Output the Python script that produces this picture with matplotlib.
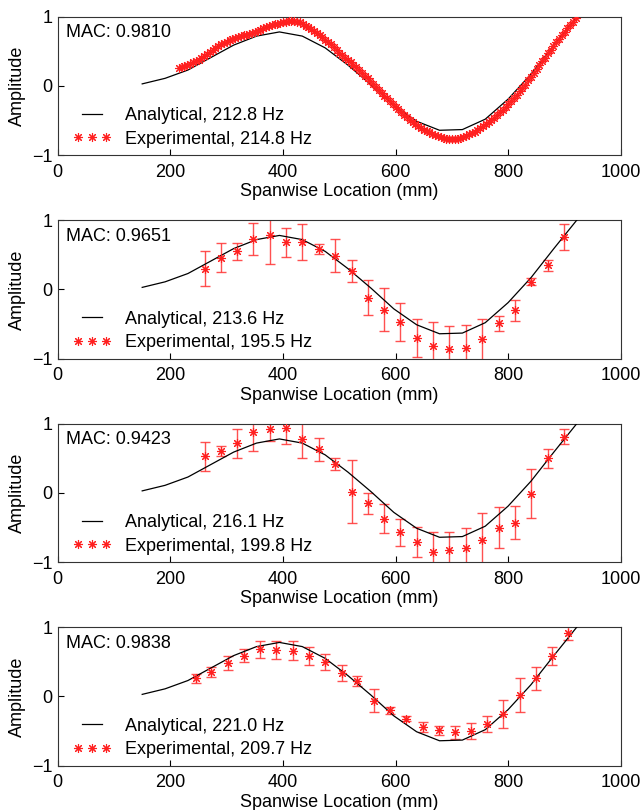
import matplotlib
matplotlib.use('Agg')
from matplotlib import pyplot as plt
from matplotlib.legend_handler import HandlerLine2D
import numpy as np

plt.rcParams['font.family'] = ['Liberation Sans', 'DejaVu Sans']
plt.rcParams['font.size'] = 13

# analytical mode shape (same in every panel)
ana_x = [150, 190.6, 231.2, 271.8, 312.4, 353, 393.6, 434.2, 474.8, 515.4,
         556, 596.6, 637.2, 677.8, 718.4, 759, 799.6, 840.2, 880.8, 921.4]
ana_y = [0.03, 0.11, 0.23, 0.41, 0.59, 0.72, 0.78, 0.72, 0.55, 0.30,
         0.02, -0.28, -0.51, -0.64, -0.63, -0.48, -0.19, 0.17, 0.59, 1.0]

# panel 1: dense scan, every 5 mm from 215 mm
exp1_y = [0.26, 0.27, 0.29, 0.30, 0.32, 0.34, 0.36, 0.38, 0.40, 0.43,
          0.46, 0.49, 0.52, 0.55, 0.57, 0.60, 0.62, 0.64, 0.66, 0.68,
          0.69, 0.71, 0.72, 0.73, 0.74, 0.75, 0.77, 0.78, 0.79, 0.81,
          0.83, 0.85, 0.86, 0.88, 0.89, 0.90, 0.91, 0.92, 0.93, 0.94,
          0.94, 0.94, 0.93, 0.92, 0.90, 0.87, 0.85, 0.82, 0.79, 0.76,
          0.73, 0.70, 0.67, 0.64, 0.60, 0.56, 0.52, 0.48, 0.44, 0.41,
          0.37, 0.34, 0.30, 0.27, 0.23, 0.19, 0.15, 0.11, 0.07, 0.03,
          -0.02, -0.06, -0.10, -0.14, -0.18, -0.22, -0.26, -0.30, -0.34, -0.38,
          -0.42, -0.45, -0.49, -0.52, -0.55, -0.58, -0.60, -0.63, -0.65, -0.67,
          -0.69, -0.71, -0.72, -0.74, -0.75, -0.76, -0.76, -0.77, -0.77, -0.76,
          -0.75, -0.73, -0.72, -0.70, -0.68, -0.66, -0.63, -0.61, -0.58, -0.55,
          -0.52, -0.49, -0.46, -0.42, -0.38, -0.35, -0.30, -0.26, -0.22, -0.17,
          -0.13, -0.08, -0.03, 0.02, 0.08, 0.13, 0.19, 0.25, 0.30, 0.36,
          0.41, 0.47, 0.52, 0.58, 0.63, 0.68, 0.73, 0.78, 0.83, 0.88,
          0.93, 0.98]
exp1_x = list(range(215, 215 + 5 * len(exp1_y), 5))

# panels 2 and 3 share measurement points
pts23_x = [261, 290, 319, 347, 377, 406, 434, 463, 493, 522, 550, 580,
           608, 637, 667, 695, 725, 753, 783, 812, 840, 870, 899]
exp2_y = [0.30, 0.46, 0.55, 0.73, 0.78, 0.68, 0.68, 0.58, 0.49, 0.27, -0.12, -0.29,
          -0.47, -0.70, -0.82, -0.86, -0.85, -0.72, -0.49, -0.30, 0.11, 0.35, 0.76]
exp2_err = [0.25, 0.21, 0.12, 0.23, 0.41, 0.21, 0.26, 0.07, 0.24, 0.16, 0.25, 0.31,
            0.27, 0.28, 0.35, 0.33, 0.33, 0.30, 0.11, 0.15, 0.05, 0.08, 0.19]
exp3_y = [0.53, 0.61, 0.72, 0.88, 0.93, 0.94, 0.78, 0.63, 0.42, 0.02, -0.15, -0.37,
          -0.57, -0.71, -0.85, -0.82, -0.80, -0.68, -0.50, -0.43, -0.01, 0.50, 0.81]
exp3_err = [0.21, 0.07, 0.21, 0.27, 0.18, 0.23, 0.28, 0.17, 0.09, 0.45, 0.15, 0.21,
            0.19, 0.22, 0.28, 0.25, 0.30, 0.39, 0.29, 0.24, 0.35, 0.14, 0.11]

pts4_x = [245, 273, 303, 330, 360, 388, 418, 446, 475, 504, 532, 561,
          590, 619, 648, 677, 706, 734, 763, 791, 820, 849, 878, 906]
exp4_y = [0.26, 0.35, 0.48, 0.59, 0.68, 0.67, 0.66, 0.59, 0.50, 0.34, 0.22, -0.06,
          -0.20, -0.32, -0.44, -0.49, -0.52, -0.50, -0.40, -0.25, 0.02, 0.26, 0.59, 0.92]
exp4_err = [0.06, 0.07, 0.10, 0.09, 0.12, 0.13, 0.14, 0.13, 0.12, 0.11, 0.07, 0.17,
            0.05, 0.04, 0.07, 0.07, 0.10, 0.11, 0.12, 0.20, 0.25, 0.17, 0.13, 0.10]

mac = ['0.9810', '0.9651', '0.9423', '0.9838']
ana_hz = ['212.8', '213.6', '216.1', '221.0']
exp_hz = ['214.8', '195.5', '199.8', '209.7']

panels = [(exp1_x, exp1_y, None),
          (pts23_x, exp2_y, exp2_err),
          (pts23_x, exp3_y, exp3_err),
          (pts4_x, exp4_y, exp4_err)]

fig = plt.figure(figsize=(6.44, 8.10), dpi=100)
W, H = 644.0, 810.0
star = (8, 2, 0)

for k, (ex, ey, err) in enumerate(panels):
    top = 16.7 + 203.5 * k
    ax = fig.add_axes([57.7 / W, 1 - (top + 138.5) / H, 563.3 / W, 138.5 / H])
    ax.plot(ana_x, ana_y, color='black', lw=0.9,
            label='Analytical, %s Hz' % ana_hz[k], zorder=3)
    if err is not None:
        ax.errorbar(ex, ey, yerr=err, fmt='none', ecolor='#ff3333', elinewidth=1.0,
                    capsize=3.5, capthick=1.0, alpha=0.85, zorder=2)
        ms = 6.5
    else:
        ms = 6.5
    exp_line, = ax.plot(ex, ey, linestyle='none', marker=star, color='#ff2020',
                        markersize=ms, mew=0.8,
                        label='Experimental, %s Hz' % exp_hz[k], zorder=4)

    ax.set_xlim(0, 1000)
    ax.set_ylim(-1, 1)
    ax.set_xticks([0, 200, 400, 600, 800, 1000])
    ax.set_yticks([-1, 0, 1])
    ax.tick_params(direction='in', length=4, width=0.8, top=False, right=False)
    ax.tick_params(axis='x', pad=6)
    ax.tick_params(axis='y', pad=4)
    for s in ax.spines.values():
        s.set_linewidth(0.8)
        s.set_color('#333333')
    ax.set_xlabel('Spanwise Location (mm)', labelpad=2)
    ax.set_ylabel('Amplitude', labelpad=4)
    ax.text(0.015, 0.885, 'MAC: ' + mac[k], transform=ax.transAxes,
            ha='left', va='center')
    ax.legend(loc='lower left', frameon=False, numpoints=3, handlelength=1.72,
              handletextpad=0.95, labelspacing=0.35, borderaxespad=0.2,
              bbox_to_anchor=(0.014, -0.023),
              handler_map={exp_line: HandlerLine2D(marker_pad=0.1, numpoints=3)})

fig.savefig('out.png', dpi=100)
